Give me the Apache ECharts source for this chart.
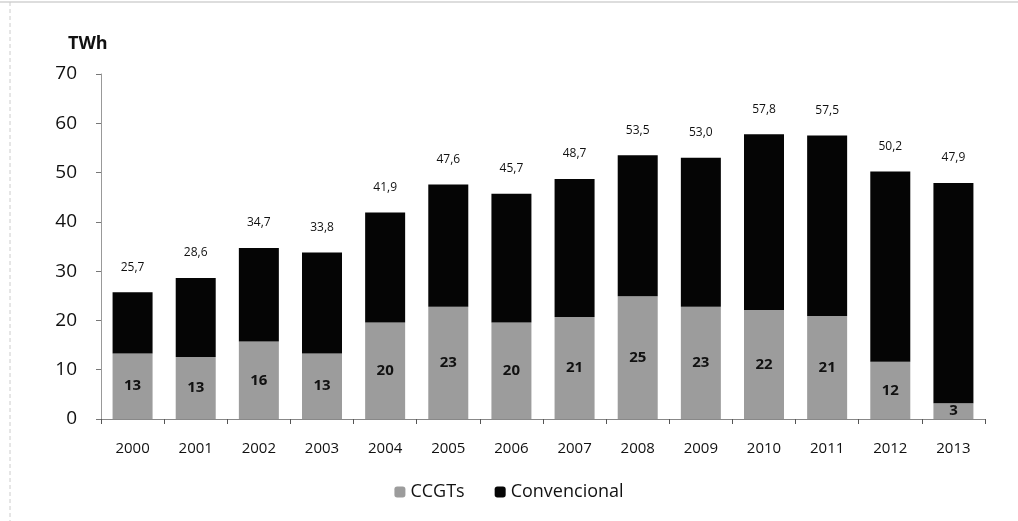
<!DOCTYPE html>
<html lang="es">
<head>
<meta charset="UTF-8">
<title>Generación TWh</title>
<script src="https://cdn.jsdelivr.net/npm/echarts@6/dist/echarts.min.js"></script>
<style>
  html, body { margin: 0; padding: 0; background: #fff; }
  #chart { width: 1018px; height: 521px; }
</style>
</head>
<body>
<div id="chart"></div>
<script>
    // years on the x axis
    const years = ['2000','2001','2002','2003','2004','2005','2006','2007','2008','2009','2010','2011','2012','2013'];
    // CCGT part of each bar (TWh)
    const ccgt = [13.3, 12.6, 15.7, 13.3, 19.6, 22.8, 19.6, 20.7, 24.9, 22.8, 22.1, 20.9, 11.6, 3.2];
    // total labels printed above the bars
    const totals = [25.7, 28.6, 34.7, 33.8, 41.9, 47.6, 45.7, 48.7, 53.5, 53.0, 57.8, 57.5, 50.2, 47.9];
    // conventional = total - ccgt
    const convencional = totals.map((t, i) => +(t - ccgt[i]).toFixed(1));

    const font = '"Open Sans", "DejaVu Sans", sans-serif';
    let chart = echarts.init(document.getElementById('chart'));

    chart.setOption({
        animation: false,
        textStyle: { fontFamily: font },
        grid: { left: 101, right: 33, top: 74, bottom: 102 },
        graphic: [
            {
                type: 'text', left: 68, top: 35,
                style: { text: 'TWh', font: 'bold 18px ' + font, fill: '#111' }
            },
            // thin frame left over from the scan
            { type: 'line', shape: { x1: 0, y1: 2, x2: 1018, y2: 2 }, style: { stroke: '#bbb', lineWidth: 1 } },
            { type: 'line', shape: { x1: 10, y1: 2, x2: 10, y2: 521 }, style: { stroke: '#ccc', lineWidth: 1, lineDash: [4, 3] } }
        ],
        legend: {
            top: 478, left: 'center',
            itemWidth: 11, itemHeight: 11, itemGap: 30,
            textStyle: { fontSize: 18, color: '#111', fontFamily: font },
            data: ['CCGTs', 'Convencional']
        },
        xAxis: {
            type: 'category',
            data: years,
            axisLine: { lineStyle: { color: '#888' } },
            axisTick: { show: true, length: 5, lineStyle: { color: '#555' } },
            axisLabel: { fontSize: 15, color: '#111', margin: 22 }
        },
        yAxis: {
            type: 'value',
            min: 0, max: 70, interval: 10,
            axisLine: { show: true, lineStyle: { color: '#999' } },
            axisTick: { show: true, length: 5, lineStyle: { color: '#777' } },
            splitLine: { show: false },
            axisLabel: { fontSize: 19, color: '#111', margin: 24 }
        },
        series: [
            {
                name: 'CCGTs', type: 'bar', stack: 'total',
                barWidth: 40,
                data: ccgt,
                itemStyle: { color: '#9c9c9c' },
                label: {
                    show: true, position: 'inside',
                    formatter: p => Math.round(p.value),
                    fontSize: 15, fontWeight: 'bold', color: '#111'
                }
            },
            {
                name: 'Convencional', type: 'bar', stack: 'total',
                barWidth: 40,
                data: convencional,
                itemStyle: { color: '#050505' },
                label: {
                    show: true, position: 'top', distance: 19,
                    formatter: p => totals[p.dataIndex].toFixed(1).replace('.', ','),
                    fontSize: 12, color: '#111'
                }
            }
        ]
    });
</script>
</body>
</html>
